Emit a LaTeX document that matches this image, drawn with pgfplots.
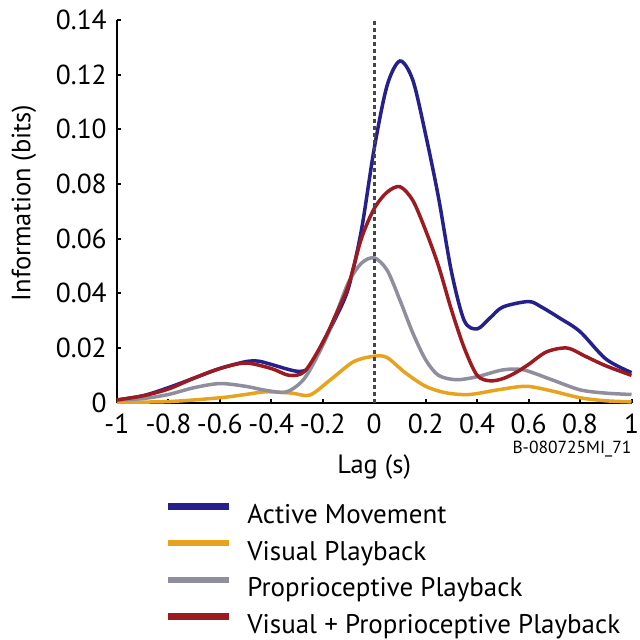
\documentclass[border=0pt]{standalone}
\usepackage{fontspec}
\setmainfont{PT Sans}
\usepackage{pgfplots}
\pgfplotsset{compat=1.18}
\definecolor{cblue}{RGB}{38,32,140}
\definecolor{cyel}{RGB}{232,163,30}
\definecolor{cgray}{RGB}{142,142,158}
\definecolor{cred}{RGB}{155,27,32}
\definecolor{cdot}{RGB}{70,70,70}
\begin{document}
\begin{tikzpicture}
\path (-117pt,-237pt) rectangle (521pt,403pt);
\begin{axis}[
  scale only axis, width=515pt, height=383pt,
  xmin=-1, xmax=1, ymin=0, ymax=0.14,
  axis lines=left, axis line style={-, line width=2pt, black},
  xtick={-1,-0.8,-0.6,-0.4,-0.2,0,0.2,0.4,0.6,0.8,1},
  xticklabels={-1,-0.8,-0.6,-0.4,-0.2,0,0.2,0.4,0.6,0.8,1},
  ytick={0,0.02,0.04,0.06,0.08,0.10,0.12,0.14},
  yticklabels={0,0.02,0.04,0.06,0.08,0.10,0.12,0.14},
  tick align=inside, major tick length=4pt, tick style={line width=2pt, black},
  ticklabel style={font=\fontsize{27.5}{27.5}\selectfont, inner sep=1pt},
  xticklabel style={yshift=-10pt},
  yticklabel style={xshift=-9pt},
  xlabel={Lag (s)}, ylabel={Information (bits)},
  label style={font=\fontsize{26.5}{26.5}\selectfont},
  xlabel style={at={(axis description cs:0.5,-0.167)}, anchor=center},
  ylabel style={at={(axis description cs:-0.181,0.522)}, anchor=center},
  clip=false,
  legend cell align=left,
  legend style={draw=none, fill=none, at={(axis description cs:0.093,-0.262)}, anchor=north west,
    inner sep=0pt, row sep=13.5pt, font=\fontsize{27}{27}\selectfont,
    nodes={inner sep=0pt, text height=19pt, text depth=3pt},
    /tikz/every odd column/.style={column sep=15pt}},
  legend image code/.code={\draw[#1, line width=6.5pt] (0pt,9pt) -- (61pt,9pt);},
  every axis plot/.append style={line width=3.5pt, smooth, tension=0.5},
]
\addplot[cblue] coordinates {
(-1,0.001) (-0.9,0.0025) (-0.8,0.0055) (-0.7,0.009) (-0.6,0.0125) (-0.5,0.015) (-0.45,0.0152)
(-0.4,0.014) (-0.3,0.0115) (-0.25,0.013) (-0.2,0.022) (-0.15,0.031) (-0.1,0.042) (-0.05,0.063)
(0,0.093) (0.05,0.116) (0.1,0.125) (0.15,0.118) (0.2,0.098) (0.25,0.075) (0.3,0.048) (0.35,0.03)
(0.4,0.027) (0.45,0.031) (0.5,0.035) (0.6,0.037) (0.65,0.035) (0.72,0.031) (0.8,0.026) (0.9,0.016) (1,0.011)};
\addlegendentry{Active Movement}
\addplot[cyel] coordinates {
(-1,0.0002) (-0.8,0.0004) (-0.6,0.0018) (-0.5,0.003) (-0.42,0.004) (-0.32,0.0035) (-0.25,0.0028)
(-0.17,0.0084) (-0.08,0.015) (0,0.017) (0.05,0.0165) (0.12,0.011) (0.2,0.006) (0.28,0.0036)
(0.37,0.003) (0.48,0.0047) (0.59,0.006) (0.69,0.0043) (0.8,0.0018) (0.9,0.0007) (1,0.0003)};
\addlegendentry{Visual Playback}
\addplot[cgray] coordinates {
(-1,0.001) (-0.9,0.0015) (-0.8,0.003) (-0.7,0.0055) (-0.6,0.007) (-0.5,0.006) (-0.42,0.0045)
(-0.34,0.004) (-0.27,0.009) (-0.2,0.021) (-0.15,0.032) (-0.1,0.044) (-0.05,0.051) (0,0.053)
(0.05,0.0485) (0.1,0.0375) (0.15,0.0255) (0.2,0.0157) (0.25,0.010) (0.32,0.0084) (0.4,0.0095)
(0.5,0.012) (0.58,0.012) (0.69,0.0084) (0.8,0.0047) (0.9,0.0035) (1,0.003)};
\addlegendentry{Proprioceptive Playback}
\addplot[cred] coordinates {
(-1,0.001) (-0.9,0.0025) (-0.8,0.005) (-0.7,0.009) (-0.6,0.0125) (-0.5,0.0145) (-0.4,0.0125)
(-0.33,0.010) (-0.27,0.0115) (-0.2,0.022) (-0.15,0.032) (-0.1,0.043) (-0.05,0.06) (0,0.071)
(0.05,0.077) (0.1,0.079) (0.15,0.074) (0.2,0.063) (0.25,0.05) (0.3,0.034) (0.35,0.02) (0.4,0.010)
(0.45,0.008) (0.5,0.0088) (0.55,0.011) (0.6,0.014) (0.67,0.0186) (0.75,0.020) (0.82,0.017)
(0.9,0.0135) (1,0.010)};
\addlegendentry{Visual + Proprioceptive Playback}
\addplot[cdot, line width=3pt, dash pattern=on 3.5pt off 3.5pt, forget plot, sharp plot] coordinates {(0,0) (0,0.14)};
\node[anchor=east, inner sep=0pt, font=\fontsize{17.5}{17.5}\selectfont] at (axis description cs:1,-0.122) {B-080725MI\_71};
\end{axis}
\end{tikzpicture}
\end{document}
